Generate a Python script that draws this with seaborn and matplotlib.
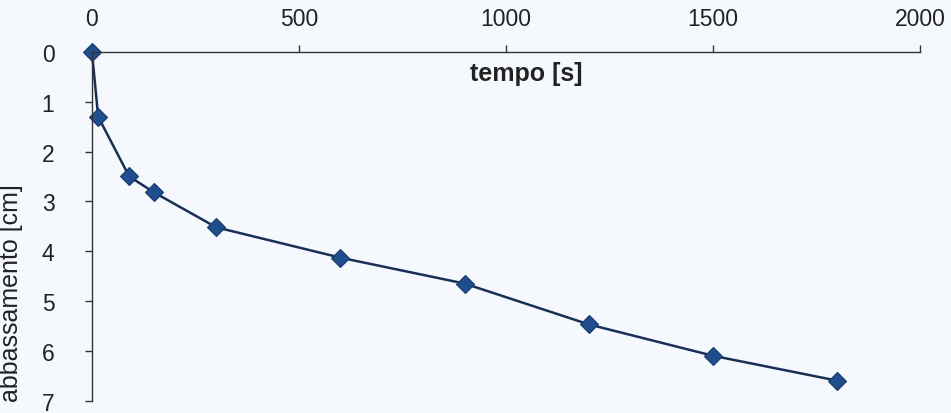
import matplotlib
matplotlib.use("Agg")
import matplotlib.pyplot as plt
import seaborn as sns

# data
tempo = [0, 15, 90, 150, 300, 600, 900, 1200, 1500, 1800]
abbassamento = [0.0, 1.3, 2.5, 2.82, 3.52, 4.13, 4.65, 5.47, 6.1, 6.6]
x_ticks = [0, 500, 1000, 1500, 2000]
y_ticks = [0, 1, 2, 3, 4, 5, 6, 7]

sns.set_style("ticks")
plt.rcParams["font.family"] = ["Liberation Sans", "DejaVu Sans"]

bg = "#f5f9fd"
fig = plt.figure(figsize=(9.51, 4.14), dpi=100, facecolor=bg)
ax = fig.add_axes([0.0967, 0.03, 0.8707, 0.842])
ax.set_facecolor(bg)

sns.lineplot(x=tempo, y=abbassamento, ax=ax, color="#1a2f55", linewidth=1.8,
             marker="D", markersize=9, markerfacecolor="#1f4e8e",
             markeredgecolor="#17396b", markeredgewidth=0.8, clip_on=False)

ax.set_xlim(0, 2000)
ax.set_ylim(7, 0)
ax.set_xticks(x_ticks)
ax.set_yticks(y_ticks)

ax.xaxis.tick_top()
ax.spines["bottom"].set_visible(False)
ax.spines["right"].set_visible(False)
for s in ["top", "left"]:
    ax.spines[s].set_color("#333333")
    ax.spines[s].set_linewidth(1.0)

ax.tick_params(axis="x", which="both", direction="out", length=5, width=1,
               pad=11, labelsize=16.5, colors="#333333", labelcolor="#222222")
ax.tick_params(axis="y", direction="out", length=5, width=1,
               pad=22, labelsize=16.5, colors="#333333", labelcolor="#222222")

ax.set_xlabel("tempo [s]", fontsize=18, fontweight="bold", color="#222222")
ax.xaxis.set_label_position("bottom")
ax.xaxis.set_label_coords(0.524, 0.975)

ax.set_ylabel("abbassamento [cm]", fontsize=18, color="#222222")
ax.yaxis.set_label_coords(-0.083, 0.31)

fig.savefig("out.png", dpi=100, facecolor=bg)
